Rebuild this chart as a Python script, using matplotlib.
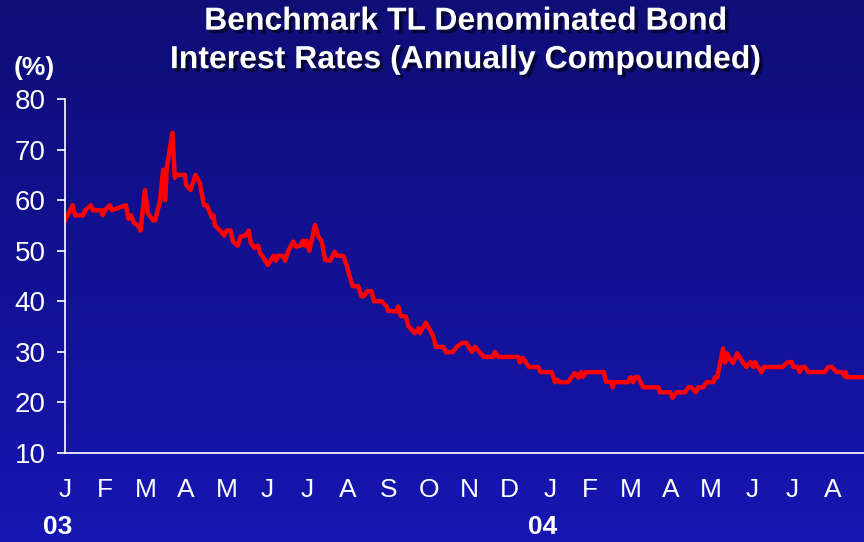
import matplotlib
matplotlib.use("Agg")
import matplotlib.pyplot as plt
import matplotlib.patheffects as pe
import numpy as np

plt.rcParams['font.family'] = ['Liberation Sans', 'DejaVu Sans']

# months since Jan 2003 and benchmark rate (%)
months = [0.00, 0.19, 0.25, 0.45, 0.50, 0.64, 0.69, 0.91, 0.93, 0.99, 1.11, 1.16,
          1.51, 1.57, 1.63, 1.71, 1.81, 1.87, 1.98, 2.05, 2.18, 2.23, 2.35, 2.43,
          2.48, 2.52, 2.66, 2.72, 2.76, 2.97, 3.00, 3.11, 3.23, 3.34, 3.44, 3.51,
          3.59, 3.64, 3.68, 3.71, 3.84, 3.94, 4.00, 4.10, 4.16, 4.28, 4.35, 4.46,
          4.55, 4.60, 4.70, 4.78, 4.83, 4.90, 5.02, 5.07, 5.17, 5.22, 5.27, 5.39,
          5.45, 5.53, 5.65, 5.72, 5.83, 5.89, 5.94, 5.98, 6.05, 6.19, 6.27, 6.35,
          6.44, 6.56, 6.68, 6.73, 6.89, 6.97, 7.05, 7.12, 7.26, 7.34, 7.40, 7.48,
          7.59, 7.65, 7.84, 7.96, 8.00, 8.21, 8.25, 8.31, 8.44, 8.50, 8.66, 8.75,
          8.79, 8.93, 8.99, 9.12, 9.18, 9.36, 9.43, 9.61, 9.70, 9.84, 9.94, 10.07,
          10.15, 10.25, 10.37, 10.60, 10.64, 10.73, 11.22, 11.26, 11.33, 11.49, 11.72, 11.77,
          12.05, 12.13, 12.19, 12.25, 12.46, 12.52, 12.62, 12.71, 12.77, 12.82, 12.90, 13.34,
          13.39, 13.53, 13.56, 13.59, 13.94, 14.00, 14.07, 14.11, 14.19, 14.31, 14.69, 14.73,
          14.99, 15.04, 15.14, 15.35, 15.43, 15.50, 15.62, 15.68, 15.80, 15.88, 16.05, 16.09,
          16.15, 16.29, 16.34, 16.39, 16.46, 16.54, 16.64, 16.79, 16.87, 16.97, 17.04, 17.08,
          17.24, 17.30, 17.76, 17.88, 17.99, 18.03, 18.14, 18.19, 18.24, 18.32, 18.40, 18.81,
          18.89, 18.99, 19.10, 19.23, 19.31, 19.33, 19.36, 19.78]
rate = [56, 59, 57, 57, 58, 59, 58, 58, 57, 58, 59, 58,
        59, 56.3, 57, 55.5, 55, 54, 62, 57.5, 56, 56, 59.7, 66,
        60, 66.4, 73.3, 64.4, 65, 65, 63, 62, 65, 63.4, 59, 59,
        57.5, 56.5, 57, 55, 54, 53, 54, 54, 51.8, 51, 52.8, 53,
        54, 51.5, 50.5, 51, 49.5, 48.8, 47.2, 47.8, 49, 48, 49, 49,
        48, 50, 51.8, 50.8, 51, 52, 51, 52, 50, 55.1, 52.8, 52,
        48.2, 48, 49.8, 49, 49, 47.2, 44.9, 43, 43, 41, 41, 42,
        42, 40, 40, 39, 38.1, 38, 39, 37.1, 37, 35.1, 33.7, 34.7,
        33.7, 35.8, 35, 33, 31, 31, 29.9, 30, 31, 31.8, 31.8, 30,
        31, 30.1, 29, 29, 30, 29, 29, 27.9, 28.8, 27, 27, 26,
        26, 24, 24.5, 24, 24, 24.8, 25.8, 24.9, 26, 25, 26, 26,
        24.1, 24, 23, 24, 24, 25, 24, 25, 25, 23, 23, 22,
        22, 20.9, 22, 22, 23, 23, 22, 23, 23, 24, 24, 25,
        25, 30.7, 27.9, 29.7, 28.5, 27.8, 29.7, 27.8, 27, 28, 27, 28,
        26, 27, 27, 27.9, 28, 27, 27, 26, 27, 27, 26, 26,
        27, 27, 26, 26, 25.1, 26, 25, 25]

month_labels = ['J', 'F', 'M', 'A', 'M', 'J', 'J', 'A', 'S', 'O', 'N', 'D',
                'J', 'F', 'M', 'A', 'M', 'J', 'J', 'A']
year_labels = ['03', '04']
year_pos = [0, 12]
y_ticks = [10, 20, 30, 40, 50, 60, 70, 80]

fig = plt.figure(figsize=(8.64, 5.42), dpi=100)

# gradient background
bg = fig.add_axes([0, 0, 1, 1], zorder=-1)
grad = np.linspace(0, 1, 256).reshape(-1, 1)
top = np.array([15, 13, 118]) / 255
bot = np.array([22, 22, 178]) / 255
img = top + (bot - top) * grad[:, :, None]
bg.imshow(img, aspect='auto', extent=[0, 1, 0, 1])
bg.axis('off')

ax = fig.add_axes([0.0752, 0.1642, 0.9248, 0.6531])
ax.set_facecolor('none')
ax.plot(months, rate, color='#ff0000', linewidth=3.2, solid_joinstyle='round')

ax.set_xlim(0, 19.78)
ax.set_ylim(10, 80)
ax.set_yticks(y_ticks)
ax.set_xticks(range(len(month_labels)))
ax.set_xticklabels(month_labels)

for s in ['top', 'right']:
    ax.spines[s].set_visible(False)
for s in ['left', 'bottom']:
    ax.spines[s].set_color('white')
    ax.spines[s].set_linewidth(1.2)

ax.tick_params(axis='y', colors='white', labelsize=20, length=6, width=1.2, pad=8)
ax.tick_params(axis='x', colors='white', labelsize=19, length=0, pad=18)

for lab, p in zip(year_labels, year_pos):
    ax.annotate(lab, xy=(p, 0), xycoords=('data', 'axes fraction'),
                xytext=(-5, -53), textcoords='offset points',
                ha='center', va='center', color='white', fontsize=19,
                fontweight='bold')

shadow = [pe.SimplePatchShadow(offset=(2.5, -2.5), shadow_rgbFace='#050530', alpha=0.9),
          pe.Normal()]
fig.text(0.539, 0.96, 'Benchmark TL Denominated Bond', ha='center', va='center',
         color='white', fontsize=23, fontweight='bold', path_effects=shadow)
fig.text(0.539, 0.889, 'Interest Rates (Annually Compounded)', ha='center', va='center',
         color='white', fontsize=23, fontweight='bold', path_effects=shadow)
fig.text(0.04, 0.875, '(%)', ha='center', va='center', color='white', fontsize=19,
         fontweight='bold')

fig.savefig('out.png', dpi=100)
